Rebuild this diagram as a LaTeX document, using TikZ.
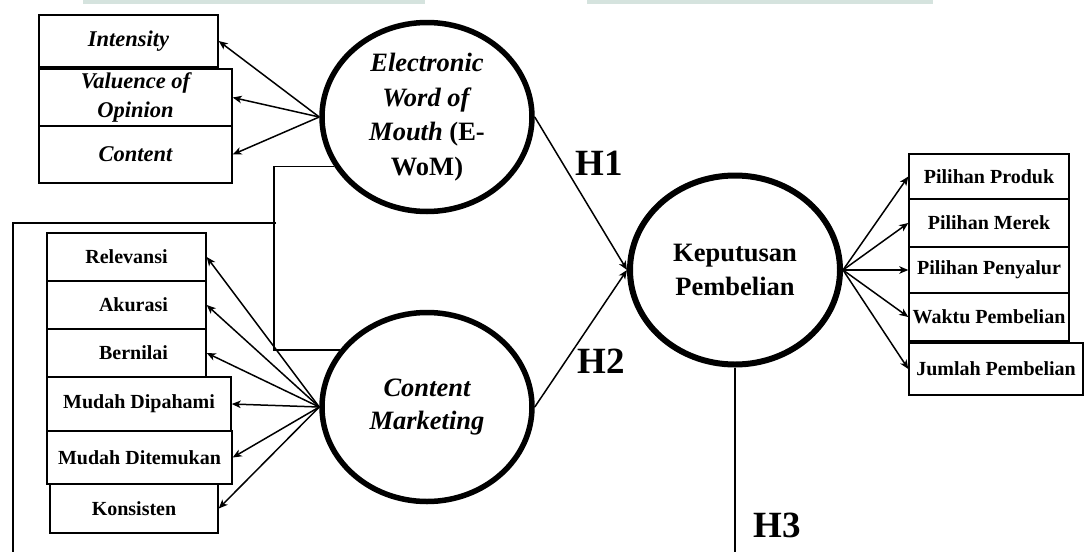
\documentclass[tikz,border=0pt]{standalone}
\usepackage{fontspec}
\setmainfont{Liberation Serif}
\usetikzlibrary{arrows.meta,shapes.geometric}
\begin{document}
\begin{tikzpicture}[x=1pt,y=-1pt,
  ind/.style={draw,line width=1.4pt,inner sep=0pt,align=center,
    font=\fontsize{20}{24}\selectfont\bfseries},
  indi/.style={draw,line width=1.4pt,inner sep=0pt,align=center,
    font=\fontsize{22.5}{29}\selectfont\bfseries\itshape},
  lat/.style={draw,ellipse,line width=5.5pt,minimum width=210pt,minimum height=189pt,
    inner sep=0pt,align=center,font=\fontsize{26.5}{34.5}\selectfont\bfseries},
  arr/.style={line width=1.5pt,-{Stealth[length=9pt,width=7.5pt,inset=2.5pt]}},
  ln/.style={line width=1.7pt},
  hyp/.style={font=\fontsize{37}{40}\selectfont\bfseries,inner sep=0pt}]
\useasboundingbox (0,0) rectangle (1084,552);
\fill[fill={rgb,255:red,213;green,227;blue,222}] (83,0) rectangle (425,3.5);
\fill[fill={rgb,255:red,213;green,227;blue,222}] (587,0) rectangle (933,3.5);
% latent constructs
\node[lat] (ewom) at (427,117) {\textit{Electronic}\\\textit{Word of}\\\textit{Mouth} (E-\\WoM)};
\node[lat,font=\fontsize{26.5}{33}\selectfont\bfseries\itshape] (cm) at (427,407) {Content\\Marketing};
\node[lat,line width=6pt] (kp) at (735,270) {Keputusan\\Pembelian};
% EWoM indicators
\node[indi,minimum width=179pt,minimum height=52pt] (int) at (128.5,41) {Intensity};
\node[indi,minimum width=193pt,minimum height=57pt] (val) at (135.5,97.5) {Valuence of\\Opinion};
\node[indi,minimum width=193pt,minimum height=57pt] (con) at (135.5,154.5) {Content};
% CM indicators
\node[ind,minimum width=159pt,minimum height=48pt] (rel) at (126.5,257) {Relevansi};
\node[ind,minimum width=159pt,minimum height=48pt] (aku) at (126.5,305) {\hspace*{14pt}Akurasi};
\node[ind,minimum width=159pt,minimum height=48pt] (ber) at (126.5,353) {\hspace*{14pt}Bernilai};
\node[ind,minimum width=184pt,minimum height=54pt] (mdp) at (139,404) {Mudah Dipahami};
\node[ind,minimum width=185pt,minimum height=53pt] (mdt) at (139.5,457.5) {Mudah Ditemukan};
\node[ind,minimum width=168pt,minimum height=49pt] (kon) at (134,508.5) {Konsisten};
% KP indicators
\node[ind,minimum width=160pt,minimum height=45pt] (pp) at (989,176.5) {Pilihan Produk};
\node[ind,minimum width=160pt,minimum height=48pt] (pm) at (989,223) {Pilihan Merek};
\node[ind,minimum width=160pt,minimum height=46pt] (py) at (989,270) {Pilihan Penyalur};
\node[ind,minimum width=160pt,minimum height=48pt] (wp) at (989,317) {Waktu Pembelian};
\node[ind,minimum width=174pt,minimum height=52pt] (jp) at (996,369) {Jumlah Pembelian};
% arrows to indicators
\foreach \t in {int,val,con} \draw[arr] (ewom.west) -- (\t.east);
\foreach \t in {rel,aku,ber,mdp,mdt,kon} \draw[arr] (cm.west) -- (\t.east);
\foreach \t in {pp,pm,py,wp,jp} \draw[arr] (kp.east) -- (\t.west);
% hypotheses
\draw[arr] (ewom.east) -- (kp.west);
\draw[arr] (cm.east) -- (kp.west);
\node[hyp] (h1) at (599,163) {H1};
\node[hyp] (h2) at (601,361) {H2};
\node[hyp] (h3) at (777,525) {H3};
% bracket lines
\coordinate (jn) at (276,223);
\coordinate (lb) at (13,552);
\coordinate (kb) at (735,552);
\draw[ln] (ewom.208) -- ++(-60,0) coordinate (bt) |- (cm.147);
\draw[ln] (jn) -| (lb);
\draw[ln] (kp.south) -- (kb);
\end{tikzpicture}
\end{document}
